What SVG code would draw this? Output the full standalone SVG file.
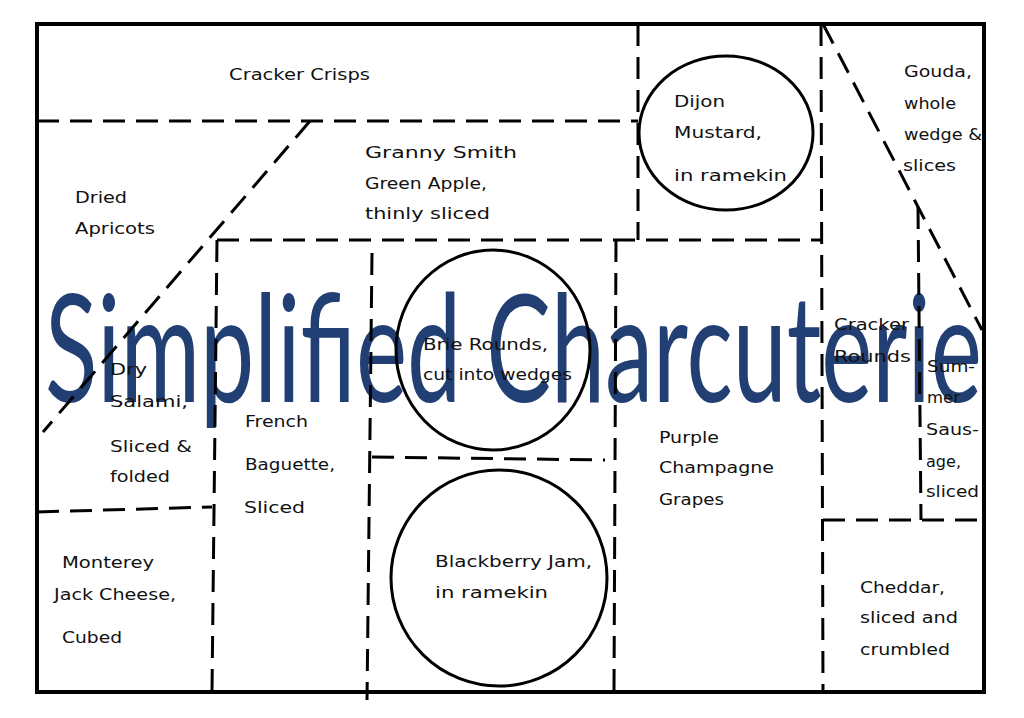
<svg xmlns="http://www.w3.org/2000/svg" width="1024" height="718" viewBox="0 0 1024 718">
<style>
.border{fill:none;stroke:#000;stroke-width:4}
.dash{fill:none;stroke:#000;stroke-width:3;stroke-dasharray:22 11}
.ram{fill:none;stroke:#000;stroke-width:3}
.lbl{font-family:"DejaVu Sans","Liberation Sans",sans-serif;font-size:16px;fill:#111}
.wm{font-family:Lato,"Open Sans",sans-serif;font-size:150px;fill:#213f72}
</style>
<rect width="1024" height="718" fill="#fff"/>
<text class="wm" x="45" y="402" textLength="937" lengthAdjust="spacingAndGlyphs">Simplified Charcuterie</text>
<g id="lines">
<rect class="border" x="37" y="24" width="947" height="668"/>
<path class="dash" d="M37 121H638"/>
<path class="dash" d="M638 24V240"/>
<path class="dash" d="M821 24L823 692"/>
<path class="dash" d="M217 240H821"/>
<path class="dash" d="M310 121L43 432"/>
<path class="dash" d="M823 24L982 330"/>
<path class="dash" d="M918 207L921 520"/>
<path class="dash" d="M823 520H984"/>
<path class="dash" d="M217 240L212 692"/>
<path class="dash" d="M372 253L367 700"/>
<path class="dash" d="M372 457L605 460"/>
<path class="dash" d="M616 240L614 692"/>
<path class="dash" d="M37 512L212 507"/>
</g>
<g id="ramekins">
<ellipse class="ram" cx="726" cy="133" rx="87" ry="77"/>
<ellipse class="ram" cx="493" cy="350" rx="97" ry="100"/>
<ellipse class="ram" cx="499" cy="578" rx="108" ry="108"/>
</g>
<g id="cracker-crisps"><text class="lbl" x="229" y="80" textLength="141" lengthAdjust="spacingAndGlyphs">Cracker Crisps</text></g>
<g id="granny-smith">
<text class="lbl" x="365" y="158" textLength="152" lengthAdjust="spacingAndGlyphs">Granny Smith</text>
<text class="lbl" x="365" y="189" textLength="122" lengthAdjust="spacingAndGlyphs">Green Apple,</text>
<text class="lbl" x="365" y="219" textLength="125" lengthAdjust="spacingAndGlyphs">thinly sliced</text>
</g>
<g id="dried-apricots">
<text class="lbl" x="75" y="203" textLength="52" lengthAdjust="spacingAndGlyphs">Dried</text>
<text class="lbl" x="75" y="234" textLength="80" lengthAdjust="spacingAndGlyphs">Apricots</text>
</g>
<g id="dijon">
<text class="lbl" x="674" y="107" textLength="51" lengthAdjust="spacingAndGlyphs">Dijon</text>
<text class="lbl" x="674" y="138" textLength="88" lengthAdjust="spacingAndGlyphs">Mustard,</text>
<text class="lbl" x="674" y="181" textLength="113" lengthAdjust="spacingAndGlyphs">in ramekin</text>
</g>
<g id="gouda">
<text class="lbl" x="904" y="77" textLength="68" lengthAdjust="spacingAndGlyphs">Gouda,</text>
<text class="lbl" x="904" y="109" textLength="52" lengthAdjust="spacingAndGlyphs">whole</text>
<text class="lbl" x="904" y="140" textLength="78" lengthAdjust="spacingAndGlyphs">wedge &amp;</text>
<text class="lbl" x="903" y="171" textLength="53" lengthAdjust="spacingAndGlyphs">slices</text>
</g>
<g id="dry-salami">
<text class="lbl" x="110" y="375" textLength="37" lengthAdjust="spacingAndGlyphs">Dry</text>
<text class="lbl" x="110" y="407" textLength="78" lengthAdjust="spacingAndGlyphs">Salami,</text>
<text class="lbl" x="110" y="452" textLength="82" lengthAdjust="spacingAndGlyphs">Sliced &amp;</text>
<text class="lbl" x="110" y="482" textLength="60" lengthAdjust="spacingAndGlyphs">folded</text>
</g>
<g id="baguette">
<text class="lbl" x="245" y="427" textLength="63" lengthAdjust="spacingAndGlyphs">French</text>
<text class="lbl" x="245" y="470" textLength="90" lengthAdjust="spacingAndGlyphs">Baguette,</text>
<text class="lbl" x="244" y="513" textLength="61" lengthAdjust="spacingAndGlyphs">Sliced</text>
</g>
<g id="brie">
<text class="lbl" x="423" y="350" textLength="125" lengthAdjust="spacingAndGlyphs">Brie Rounds,</text>
<text class="lbl" x="423" y="380" textLength="149" lengthAdjust="spacingAndGlyphs">cut into wedges</text>
</g>
<g id="cracker-rounds">
<text class="lbl" x="834" y="330" textLength="75" lengthAdjust="spacingAndGlyphs">Cracker</text>
<text class="lbl" x="834" y="362" textLength="77" lengthAdjust="spacingAndGlyphs">Rounds</text>
</g>
<g id="summer-sausage">
<text class="lbl" x="927" y="372" textLength="48" lengthAdjust="spacingAndGlyphs">Sum-</text>
<text class="lbl" x="927" y="403" textLength="33" lengthAdjust="spacingAndGlyphs">mer</text>
<text class="lbl" x="926" y="435" textLength="53" lengthAdjust="spacingAndGlyphs">Saus-</text>
<text class="lbl" x="926" y="467" textLength="35" lengthAdjust="spacingAndGlyphs">age,</text>
<text class="lbl" x="926" y="497" textLength="53" lengthAdjust="spacingAndGlyphs">sliced</text>
</g>
<g id="grapes">
<text class="lbl" x="659" y="443" textLength="60" lengthAdjust="spacingAndGlyphs">Purple</text>
<text class="lbl" x="659" y="473" textLength="115" lengthAdjust="spacingAndGlyphs">Champagne</text>
<text class="lbl" x="659" y="505" textLength="65" lengthAdjust="spacingAndGlyphs">Grapes</text>
</g>
<g id="monterey-jack">
<text class="lbl" x="62" y="568" textLength="92" lengthAdjust="spacingAndGlyphs">Monterey</text>
<text class="lbl" x="54" y="600" textLength="122" lengthAdjust="spacingAndGlyphs">Jack Cheese,</text>
<text class="lbl" x="62" y="643" textLength="60" lengthAdjust="spacingAndGlyphs">Cubed</text>
</g>
<g id="blackberry-jam">
<text class="lbl" x="435" y="567" textLength="157" lengthAdjust="spacingAndGlyphs">Blackberry Jam,</text>
<text class="lbl" x="435" y="598" textLength="113" lengthAdjust="spacingAndGlyphs">in ramekin</text>
</g>
<g id="cheddar">
<text class="lbl" x="860" y="593" textLength="85" lengthAdjust="spacingAndGlyphs">Cheddar,</text>
<text class="lbl" x="860" y="623" textLength="98" lengthAdjust="spacingAndGlyphs">sliced and</text>
<text class="lbl" x="860" y="655" textLength="90" lengthAdjust="spacingAndGlyphs">crumbled</text>
</g>
</svg>
